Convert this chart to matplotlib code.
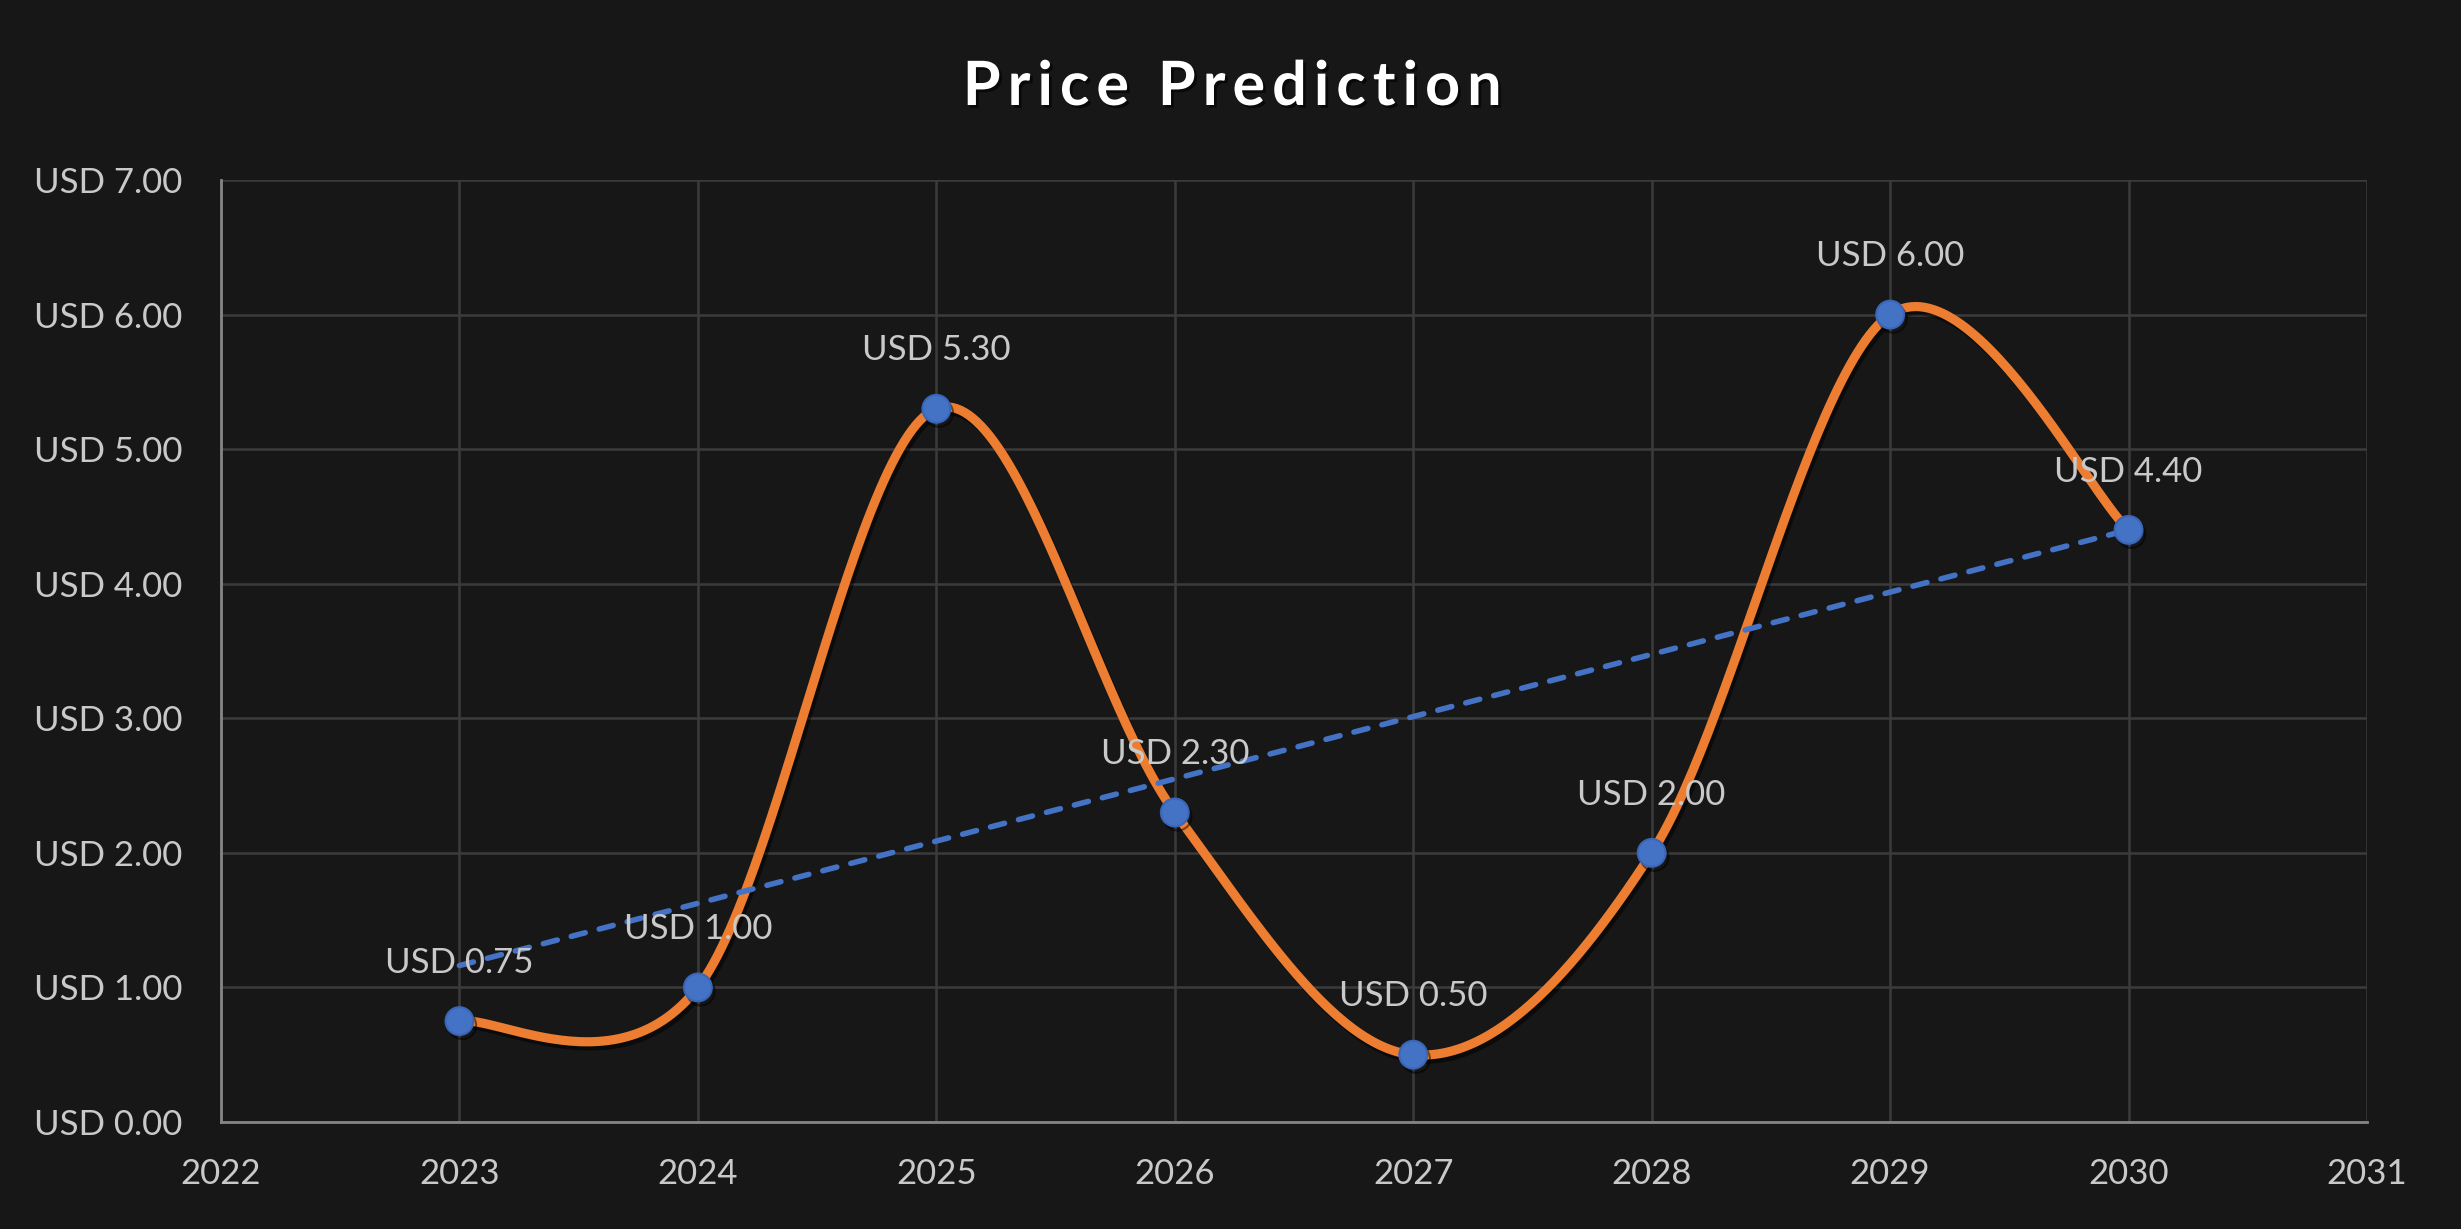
import numpy as np
import matplotlib
matplotlib.use("Agg")
import matplotlib.pyplot as plt
import matplotlib.patheffects as pe
from matplotlib.textpath import TextPath
from matplotlib.font_manager import FontProperties

# ---- data ----
years = [2023, 2024, 2025, 2026, 2027, 2028, 2029, 2030]
prices = [0.75, 1.00, 5.30, 2.30, 0.50, 2.00, 6.00, 4.40]
title = "Price Prediction"
x_ticks = list(range(2022, 2032))
y_ticks = [0, 1, 2, 3, 4, 5, 6, 7]

BG = "#171717"
GRID = "#3b3b3b"
SPINE = "#858585"
TEXT = "#c9c9c9"
ORANGE = "#ED7D31"
BLUE = "#4472C4"

plt.rcParams['font.family'] = ['Lato', 'DejaVu Sans']


def smooth_curve(xs, ys, n=60):
    """Excel-style smoothed line (Catmull-Rom Bezier segments)."""
    xs = np.asarray(xs, float)
    ys = np.asarray(ys, float)
    outx, outy = [], []
    m = len(xs)
    for i in range(m - 1):
        p0 = np.array([xs[i], ys[i]])
        p1 = np.array([xs[i + 1], ys[i + 1]])
        pm = np.array([xs[i - 1], ys[i - 1]]) if i > 0 else p0
        pp = np.array([xs[i + 2], ys[i + 2]]) if i + 2 < m else p1
        c1 = p0 + (p1 - pm) / 6.0
        c2 = p1 - (pp - p0) / 6.0
        t = np.linspace(0, 1, n)[:, None]
        b = ((1 - t) ** 3) * p0 + 3 * ((1 - t) ** 2) * t * c1 + 3 * (1 - t) * t ** 2 * c2 + t ** 3 * p1
        if i > 0:
            b = b[1:]
        outx.extend(b[:, 0])
        outy.extend(b[:, 1])
    return np.array(outx), np.array(outy)


W, H = 2461, 1229
fig = plt.figure(figsize=(W / 100, H / 100), dpi=100, facecolor=BG)
ax = fig.add_axes([221 / W, 1 - 1122 / H, (2367 - 221) / W, (1122 - 180) / H])
ax.set_facecolor(BG)

shadow = [pe.SimpleLineShadow(offset=(2, -3), shadow_color="black", alpha=0.5), pe.Normal()]

sx, sy = smooth_curve(years, prices)
ax.plot(sx, sy, color=ORANGE, lw=6.6, solid_capstyle="round", zorder=3, path_effects=shadow)

# linear trendline
coef = np.polyfit(years, prices, 1)
tx = np.array([years[0], years[-1]])
ax.plot(tx, np.polyval(coef, tx), color=BLUE, lw=4.0, dashes=(2.6, 2.6), zorder=4,
        dash_capstyle="round")

ax.plot(years, prices, linestyle="none", marker="o", markersize=20, markerfacecolor=BLUE,
        markeredgecolor="#3a66b8", markeredgewidth=1.5, zorder=5,
        path_effects=[pe.SimpleLineShadow(offset=(2, -3), shadow_color="black", alpha=0.5), pe.Normal()])

for x, y in zip(years, prices):
    ax.annotate(f"USD {y:.2f}", (x, y), xytext=(0, 42), textcoords="offset points",
                ha="center", va="center", color=TEXT, fontsize=25, zorder=6)

ax.set_xlim(2022, 2031)
ax.set_ylim(0, 7)
ax.set_xticks(x_ticks)
ax.set_xticklabels([str(v) for v in x_ticks])
ax.set_yticks(y_ticks)
ax.set_yticklabels([f"USD {v:.2f}" for v in y_ticks])
ax.tick_params(axis="both", length=0, colors=TEXT, labelsize=25)
ax.tick_params(axis="y", pad=28)
ax.tick_params(axis="x", pad=26)
ax.grid(True, color=GRID, lw=1.8)
ax.set_axisbelow(True)
for s in ["top", "right"]:
    ax.spines[s].set_visible(False)
for s in ["left", "bottom"]:
    ax.spines[s].set_color(SPINE)
    ax.spines[s].set_linewidth(2)

# title with letter spacing
title_fs = 44
fp = FontProperties(family="Lato", weight="bold", size=title_fs)
tracking = 7.0  # px extra between letters
adv = []
for ch in title:
    w = TextPath((0, 0), ch, prop=fp).get_extents().width if ch != " " else 0
    adv.append(w)
# use advance widths via full-string measurement
def text_width(s):
    if not s:
        return 0.0
    return TextPath((0, 0), s, prop=fp).vertices[:, 0].max() if s.strip() else 0.0

pts_to_px = 100 / 72.0
prefix_w = []
for i in range(len(title)):
    # advance of prefix using "x" sentinel trick
    s = title[:i] + "|"
    bar = TextPath((0, 0), "|", prop=fp)
    full = TextPath((0, 0), s, prop=fp)
    pos = full.vertices[:, 0].max() - bar.vertices[:, 0].max()
    prefix_w.append(pos * pts_to_px)
total = TextPath((0, 0), title, prop=fp).vertices[:, 0].max() * pts_to_px + tracking * (len(title) - 1)
x0 = W / 2 - total / 2
ty = H - 82
for i, ch in enumerate(title):
    if ch == " ":
        continue
    xpx = x0 + prefix_w[i] + tracking * i
    fig.text(xpx / W, ty / H, ch, ha="left", va="center_baseline", color="white",
             fontproperties=fp,
             path_effects=[pe.withSimplePatchShadow(offset=(2, -2), shadow_rgbFace="black", alpha=0.6)])

fig.savefig("out.png", dpi=100, facecolor=BG)
